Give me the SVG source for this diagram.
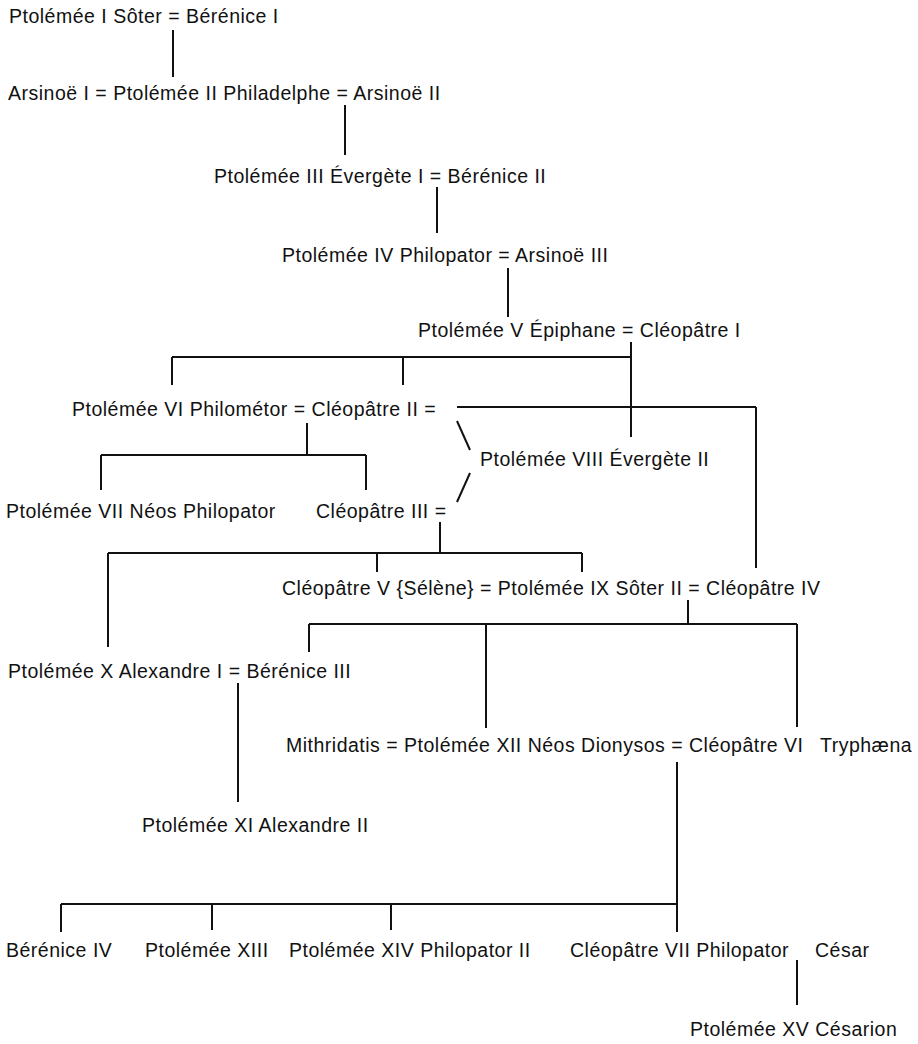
<svg xmlns="http://www.w3.org/2000/svg" width="918" height="1044" viewBox="0 0 918 1044">
<style>
.t{font-family:"Liberation Sans",Arial,sans-serif;font-size:19.5px;letter-spacing:0.5px;fill:#111}
.c line{stroke:#111;stroke-width:2;fill:none}
</style>
<rect width="918" height="1044" fill="#fff"/>
<g class="c" id="connectors">
<line x1="173" y1="30" x2="173" y2="77"/>
<line x1="345" y1="105" x2="345" y2="155"/>
<line x1="437" y1="187" x2="437" y2="233"/>
<line x1="508" y1="268" x2="508" y2="317"/>
<line x1="631" y1="342" x2="631" y2="437"/>
<line x1="172" y1="357" x2="631" y2="357"/>
<line x1="172" y1="357" x2="172" y2="385"/>
<line x1="403" y1="357" x2="403" y2="385"/>
<line x1="457" y1="407" x2="756" y2="407"/>
<line x1="756" y1="407" x2="756" y2="568"/>
<line x1="307" y1="423" x2="307" y2="455"/>
<line x1="101" y1="455" x2="366" y2="455"/>
<line x1="101" y1="455" x2="101" y2="490"/>
<line x1="366" y1="455" x2="366" y2="490"/>
<line x1="457" y1="421" x2="470" y2="450"/>
<line x1="470" y1="473" x2="457" y2="502"/>
<line x1="440" y1="522" x2="440" y2="553"/>
<line x1="108" y1="553" x2="582" y2="553"/>
<line x1="108" y1="553" x2="108" y2="647"/>
<line x1="377" y1="553" x2="377" y2="572"/>
<line x1="582" y1="553" x2="582" y2="572"/>
<line x1="688" y1="600" x2="688" y2="624"/>
<line x1="309" y1="624" x2="797" y2="624"/>
<line x1="309" y1="624" x2="309" y2="652"/>
<line x1="486" y1="624" x2="486" y2="728"/>
<line x1="797" y1="624" x2="797" y2="727"/>
<line x1="238" y1="683" x2="238" y2="802"/>
<line x1="677" y1="762" x2="677" y2="932"/>
<line x1="61" y1="904" x2="677" y2="904"/>
<line x1="61" y1="904" x2="61" y2="932"/>
<line x1="212" y1="904" x2="212" y2="930"/>
<line x1="391" y1="904" x2="391" y2="930"/>
<line x1="797" y1="960" x2="797" y2="1005"/>
</g>
<g id="n1"><text class="t" x="9" y="23">Ptolémée I Sôter = Bérénice I</text></g>
<g id="n2"><text class="t" x="8" y="100">Arsinoë I = Ptolémée II Philadelphe = Arsinoë II</text></g>
<g id="n3"><text class="t" x="214" y="183">Ptolémée III Évergète I = Bérénice II</text></g>
<g id="n4"><text class="t" x="282" y="262">Ptolémée IV Philopator = Arsinoë III</text></g>
<g id="n5"><text class="t" x="418" y="337">Ptolémée V Épiphane = Cléopâtre I</text></g>
<g id="n6"><text class="t" x="72" y="416">Ptolémée VI Philométor = Cléopâtre II =</text></g>
<g id="n7"><text class="t" x="480" y="466">Ptolémée VIII Évergète II</text></g>
<g id="n8"><text class="t" x="6" y="518">Ptolémée VII Néos Philopator</text></g>
<g id="n9"><text class="t" x="316" y="518">Cléopâtre III =</text></g>
<g id="n10"><text class="t" x="282" y="595">Cléopâtre V {Sélène} = Ptolémée IX Sôter II = Cléopâtre IV</text></g>
<g id="n11"><text class="t" x="8" y="678">Ptolémée X Alexandre I = Bérénice III</text></g>
<g id="n12"><text class="t" x="286" y="752">Mithridatis = Ptolémée XII Néos Dionysos = Cléopâtre VI<tspan x="820">Tryphæna</tspan></text></g>
<g id="n13"><text class="t" x="142" y="832">Ptolémée XI Alexandre II</text></g>
<g id="n14"><text class="t" x="6" y="957">Bérénice IV</text></g>
<g id="n15"><text class="t" x="145" y="957">Ptolémée XIII</text></g>
<g id="n16"><text class="t" x="289" y="957">Ptolémée XIV Philopator II</text></g>
<g id="n17"><text class="t" x="570" y="957">Cléopâtre VII Philopator</text></g>
<g id="n18"><text class="t" x="815" y="957">César</text></g>
<g id="n19"><text class="t" x="690" y="1036">Ptolémée XV Césarion</text></g>
</svg>
